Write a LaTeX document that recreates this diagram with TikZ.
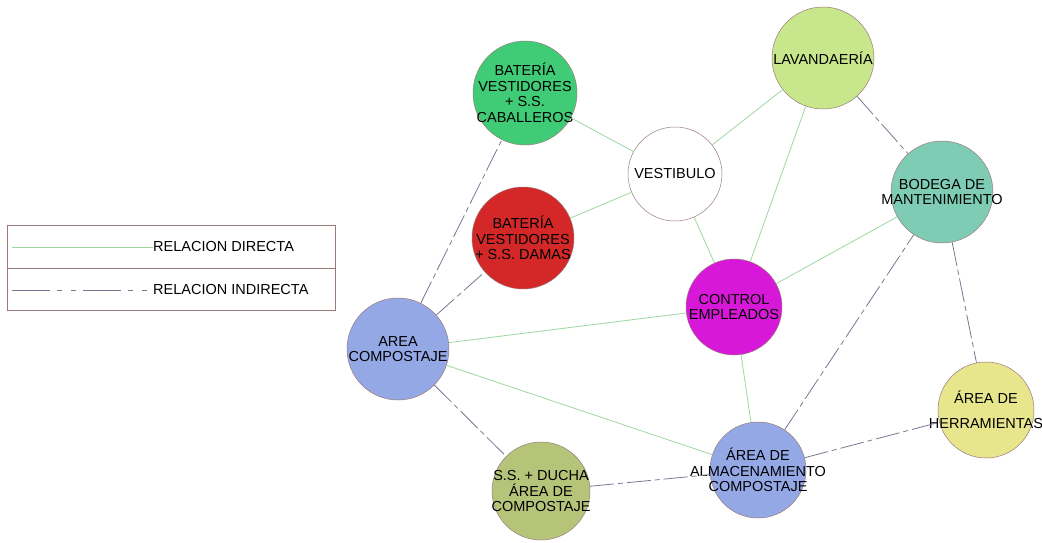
\documentclass[tikz,border=0pt]{standalone}
\usepackage{fontspec}
\setmainfont{Liberation Sans}
\usepackage{xcolor}
\usetikzlibrary{arrows.meta}

\definecolor{directa}{HTML}{9ED8A0}
\definecolor{indirecta}{HTML}{767893}
\definecolor{borde}{HTML}{9A7A7A}

\tikzset{
  zona/.style={circle,draw=borde,line width=0.5pt,inner sep=0pt,minimum size=#1},
  zona/.default=98pt,
  rotulo/.style={align=center,font=\fontsize{14.5}{15.5}\selectfont,inner sep=0pt},
  directo/.style={directa,line width=0.8pt},
  indirecto/.style={indirecta,line width=0.8pt,dash pattern=on 24pt off 4pt on 5pt off 4pt}
}

\begin{document}
\begin{tikzpicture}[x=1pt,y=-1pt]
  \useasboundingbox (0,0) rectangle (1042,542);
  % zonas
  \node[zona=104pt,fill={rgb,255:red,64;green,204;blue,118},label={[rotulo]center:BATERÍA\\VESTIDORES\\+ S.S.\\CABALLEROS}] (cab) at (525,93) {};
  \node[zona=102pt,fill={rgb,255:red,212;green,40;blue,40},label={[rotulo]center:BATERÍA\\VESTIDORES\\+ S.S. DAMAS}] (dam) at (523,238) {};
  \node[zona=94pt,fill=white,label={[rotulo]center:VESTIBULO}] (ves) at (675,174) {};
  \node[zona=102pt,fill={rgb,255:red,200;green,230;blue,140},label={[rotulo]center:LAVANDAERÍA}] (lav) at (823,58) {};
  \node[zona=102pt,fill={rgb,255:red,126;green,204;blue,180},label={[rotulo]center:BODEGA DE\\MANTENIMIENTO}] (bod) at (942,192) {};
  \node[zona=96pt,fill={rgb,255:red,216;green,24;blue,216},label={[rotulo]center:CONTROL\\EMPLEADOS}] (ctl) at (734,307) {};
  \node[zona=102pt,fill={rgb,255:red,148;green,168;blue,230},label={[rotulo]center:AREA\\COMPOSTAJE}] (com) at (398,349) {};
  \node[zona=96pt,fill={rgb,255:red,232;green,230;blue,140},label={[rotulo]center:ÁREA DE\\[9pt]HERRAMIENTAS}] (her) at (986,410) {};
  \node[zona=96pt,fill={rgb,255:red,148;green,168;blue,230},label={[rotulo]center:ÁREA DE\\ALMACENAMIENTO\\COMPOSTAJE}] (alm) at (758,470) {};
  \node[zona=98pt,fill={rgb,255:red,182;green,196;blue,122},label={[rotulo]center:S.S. + DUCHA\\ÁREA DE\\COMPOSTAJE}] (ssd) at (541,491) {};
  % relaciones directas
  \foreach \a/\b in {cab/ves,dam/ves,ves/lav,ves/ctl,lav/ctl,bod/ctl,com/ctl,ctl/alm,com/alm}
    \draw[directo] (\a) -- (\b);
  % relaciones indirectas
  \foreach \a/\b in {com/cab,com/dam,com/ssd,ssd/alm,alm/bod,alm/her,lav/bod,bod/her}
    \draw[indirecto] (\a) -- (\b);
  % leyenda
  \draw[borde,line width=0.5pt] (7,225) rectangle (335,310);
  \draw[borde,line width=0.5pt] (7,268) -- (335,268);
  \coordinate (d0) at (12,247);
  \coordinate (i0) at (12,290);
  \node[right,rotulo] (ldir) at (153,247) {RELACION DIRECTA};
  \node[right,rotulo] (lind) at (153,290) {RELACION INDIRECTA};
  \draw[directo] (d0) -- (ldir.west);
  \draw[indirecto,dash pattern=on 38pt off 7pt on 5pt off 9pt on 5pt off 7pt] (i0) -- (lind.west);
\end{tikzpicture}
\end{document}
